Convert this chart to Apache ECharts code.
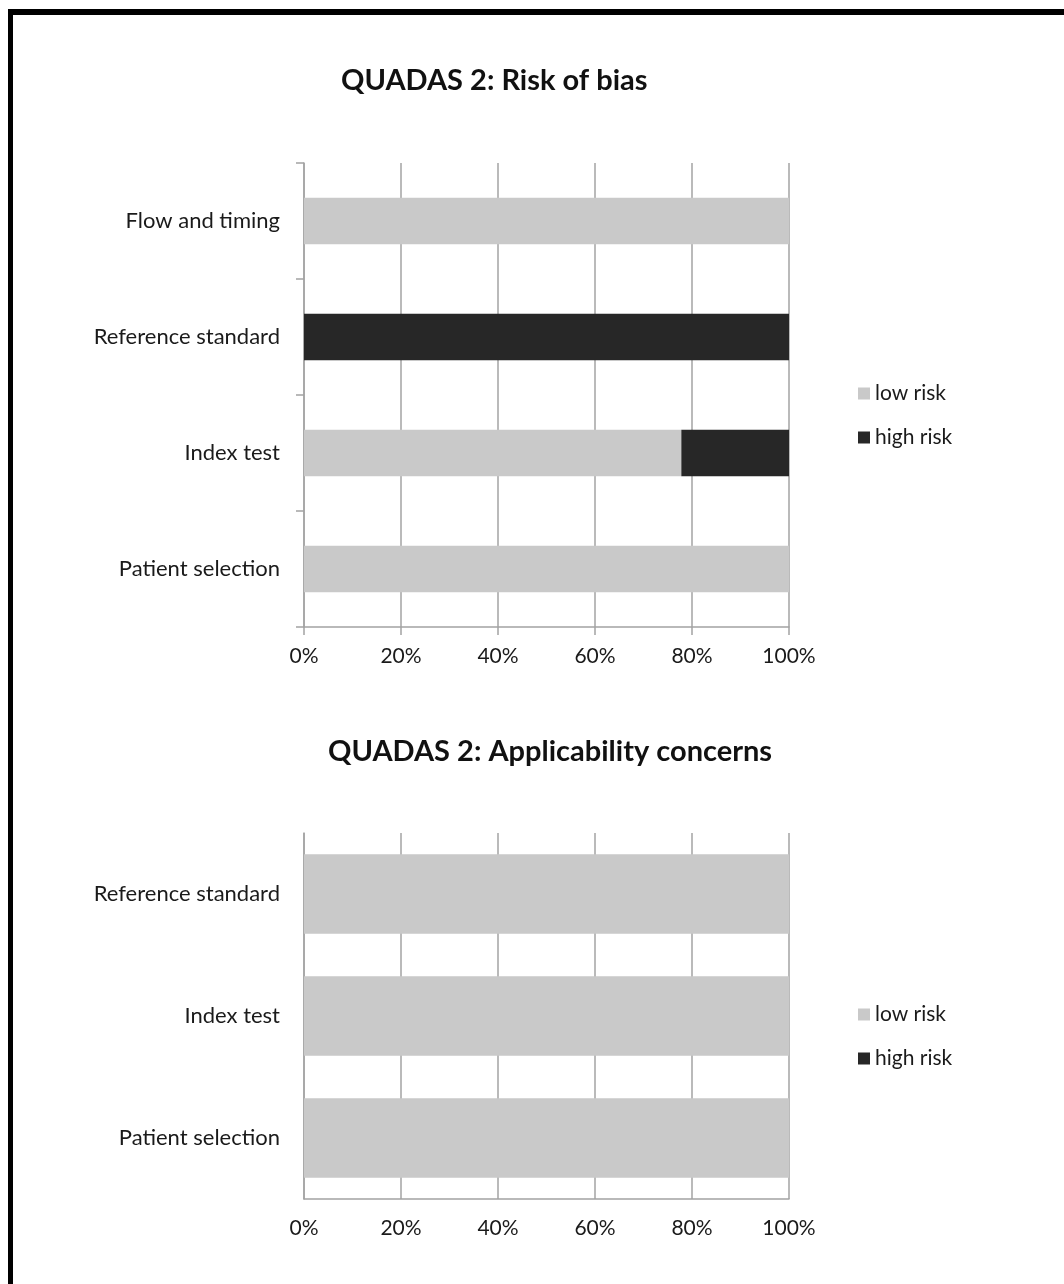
<!DOCTYPE html>
<html>
<head>
<meta charset="utf-8">
<script src="https://cdn.jsdelivr.net/npm/echarts@6/dist/echarts.min.js"></script>
<style>
html,body{margin:0;padding:0;background:#fff;}
#c{width:1064px;height:1284px;}
</style>
</head>
<body>
<div id="c"></div>
<script>
// Data (bottom-to-top order, as ECharts category axes draw)
var biasCategories = ['Patient selection', 'Index test', 'Reference standard', 'Flow and timing'];
var biasLow = [100, 77.8, 0, 100];
var biasHigh = [0, 22.2, 100, 0];

var applCategories = ['Patient selection', 'Index test', 'Reference standard'];
var applLow = [100, 100, 100];
var applHigh = [0, 0, 0];

var seriesNames = ['low risk', 'high risk'];
var titles = ['QUADAS 2: Risk of bias', 'QUADAS 2: Applicability concerns'];

var FONT = 'Lato, "Open Sans", sans-serif';
var TXT = '#1a1a1a';
var GRID = '#a3a3a3';
var LOW = '#c9c9c9';
var HIGH = '#272727';

var chart = echarts.init(document.getElementById('c'), null, {renderer: 'canvas'});

function xAxisFor(idx, ticks) {
  return {
    type: 'value', gridIndex: idx, min: 0, max: 100, interval: 20,
    axisLine: {show: true, lineStyle: {color: GRID, width: 1.5}},
    axisTick: {show: ticks, length: 8, lineStyle: {color: GRID, width: 1.5}},
    splitLine: {show: true, lineStyle: {color: GRID, width: 1.5}},
    axisLabel: {formatter: '{value}%', margin: 19, fontSize: 21, fontFamily: FONT, color: TXT}
  };
}
function yAxisFor(idx, cats, ticks) {
  return {
    type: 'category', gridIndex: idx, data: cats,
    axisLine: {show: true, lineStyle: {color: GRID, width: 1.5}},
    axisTick: {show: ticks, length: 8, lineStyle: {color: GRID, width: 1.5}},
    splitLine: {show: false},
    axisLabel: {margin: 24, fontSize: 22, fontFamily: FONT, color: TXT}
  };
}
function legendAt(top) {
  return {
    data: seriesNames, orient: 'vertical', left: 853, top: top,
    icon: 'rect', itemWidth: 12, itemHeight: 12, itemGap: 23,
    selectedMode: false,
    textStyle: {fontSize: 21, lineHeight: 21, fontFamily: FONT, color: TXT, padding: [0, 0, 0, 0]}
  };
}

chart.setOption({
  animation: false,
  backgroundColor: '#fff',
  title: [
    {text: titles[0], left: 336, top: 61, textStyle: {fontSize: 29, fontWeight: 'bold', fontFamily: FONT, color: '#111'}},
    {text: titles[1], left: 323, top: 732, textStyle: {fontSize: 29, fontWeight: 'bold', fontFamily: FONT, color: '#111'}}
  ],
  legend: [legendAt(378), legendAt(999)],
  grid: [
    {left: 304, top: 163, width: 485, height: 464},
    {left: 304, top: 833, width: 485, height: 366}
  ],
  xAxis: [xAxisFor(0, true), xAxisFor(1, false)],
  yAxis: [yAxisFor(0, biasCategories, true), yAxisFor(1, applCategories, false)],
  series: [
    {name: seriesNames[0], type: 'bar', stack: 'bias', xAxisIndex: 0, yAxisIndex: 0, data: biasLow, barCategoryGap: '60%', itemStyle: {color: LOW}},
    {name: seriesNames[1], type: 'bar', stack: 'bias', xAxisIndex: 0, yAxisIndex: 0, data: biasHigh, barCategoryGap: '60%', itemStyle: {color: HIGH}},
    {name: seriesNames[0], type: 'bar', stack: 'appl', xAxisIndex: 1, yAxisIndex: 1, data: applLow, barCategoryGap: '35%', itemStyle: {color: LOW}},
    {name: seriesNames[1], type: 'bar', stack: 'appl', xAxisIndex: 1, yAxisIndex: 1, data: applHigh, barCategoryGap: '35%', itemStyle: {color: HIGH}}
  ],
  graphic: [
    {type: 'rect', shape: {x: 8, y: 9, width: 1056, height: 6}, style: {fill: '#000'}, z: 100},
    {type: 'rect', shape: {x: 8, y: 9, width: 5, height: 1275}, style: {fill: '#000'}, z: 100}
  ]
});
</script>
</body>
</html>
